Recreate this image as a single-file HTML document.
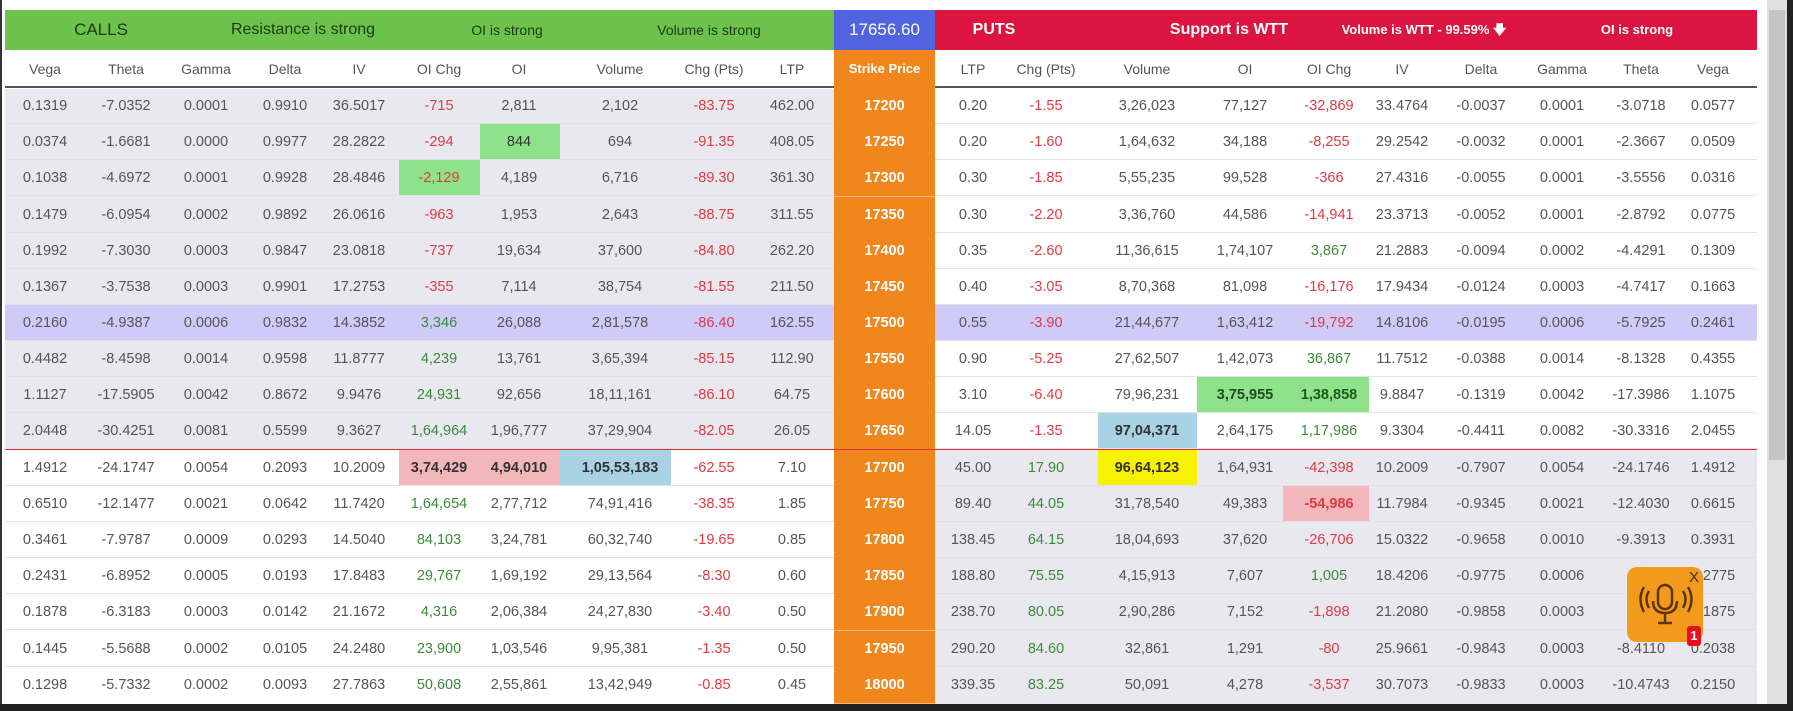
<!DOCTYPE html>
<html><head><meta charset="utf-8"><style>
*{margin:0;padding:0;box-sizing:border-box}
body{width:1793px;height:711px;background:#fff;position:relative;overflow:hidden;font-family:"Liberation Sans",sans-serif;color:#555}
.hb{position:absolute;top:10px;height:40px;font-size:16px;line-height:40px}
.ht{position:absolute;top:0;transform:translateX(-50%);white-space:nowrap}
.row{position:absolute;left:5px;width:1752px;height:36px;border-bottom:1px solid #e2e2e2}
.row span{position:absolute;top:0;width:90px;margin-left:-50px;text-align:center;line-height:36px;font-size:14.5px}
.hdr span{font-size:14px;color:#555}
.r{color:#e03a44}.g{color:#3c8a3c}
.hl{position:absolute;height:36px}
.stk{position:absolute;left:834px;width:101px;background:#f0861c;color:#fff;font-weight:bold;text-align:center;font-size:14.5px;line-height:36px;border-bottom:1px solid #f7b77a}
</style></head><body>
<div style="position:absolute;left:0;top:0;width:2px;height:711px;background:#333"></div>
<div style="position:absolute;left:0;top:704px;width:1793px;height:7px;background:#222"></div>
<div style="position:absolute;left:1787px;top:0;width:6px;height:711px;background:#222"></div>
<div style="position:absolute;left:1767px;top:0;width:20px;height:704px;background:#e0e0e0"></div>
<div style="position:absolute;left:1769px;top:10px;width:16px;height:450px;background:#c4c4c4"></div>

<div class="hb" style="left:5px;width:829px;background:#6cc24a;color:#1d3a10">
<span class="ht" style="left:96px;font-size:17px">CALLS</span>
<span class="ht" style="left:298px">Resistance is strong</span>
<span class="ht" style="left:502px;font-size:14px">OI is strong</span>
<span class="ht" style="left:704px;font-size:14px">Volume is strong</span></div>
<div class="hb" style="left:834px;width:101px;background:#5064e0;color:#fff;text-align:center;font-size:17px">17656.60</div>
<div class="hb" style="left:935px;width:822px;background:#dc1440;color:#fff;font-weight:bold">
<span class="ht" style="left:59px;font-size:16px">PUTS</span>
<span class="ht" style="left:294px;font-size:16px">Support is WTT</span>
<span class="ht" style="left:489px;font-size:13px">Volume is WTT - 99.59% &#129095;</span>
<span class="ht" style="left:702px;font-size:13px">OI is strong</span></div>

<div class="row hdr" style="top:50px;height:38px;border-bottom:2px solid #555">
<span style="left:45px;line-height:38px">Vega</span><span style="left:126px;line-height:38px">Theta</span><span style="left:206px;line-height:38px">Gamma</span><span style="left:285px;line-height:38px">Delta</span><span style="left:359px;line-height:38px">IV</span><span style="left:439px;line-height:38px">OI Chg</span><span style="left:519px;line-height:38px">OI</span><span style="left:620px;line-height:38px">Volume</span><span style="left:714px;line-height:38px">Chg (Pts)</span><span style="left:792px;line-height:38px">LTP</span>
<span style="left:973px;line-height:38px">LTP</span><span style="left:1046px;line-height:38px">Chg (Pts)</span><span style="left:1147px;line-height:38px">Volume</span><span style="left:1245px;line-height:38px">OI</span><span style="left:1329px;line-height:38px">OI Chg</span><span style="left:1402px;line-height:38px">IV</span><span style="left:1481px;line-height:38px">Delta</span><span style="left:1562px;line-height:38px">Gamma</span><span style="left:1641px;line-height:38px">Theta</span><span style="left:1713px;line-height:38px">Vega</span></div>
<div style="position:absolute;left:834px;top:50px;width:101px;height:38px;background:#f0861c;color:#fff;font-weight:bold;font-size:13px;text-align:center;line-height:38px">Strike Price</div>

<div style="position:absolute;left:5px;top:89px;width:829px;height:361px;background:#e8e8ee"></div>
<div style="position:absolute;left:935px;top:450px;width:822px;height:254px;background:#e8e8ee"></div>
<div style="position:absolute;left:5px;top:305px;width:1752px;height:36px;background:#cfcaf7"></div>
<div class="hl" style="left:480px;top:124px;width:80px;background:#8ee28a"></div>
<div class="hl" style="left:399px;top:160px;width:81px;background:#8ee28a"></div>
<div class="hl" style="left:1197px;top:377px;width:172px;background:#8ee28a"></div>
<div class="hl" style="left:1098px;top:413px;width:99px;background:#a9d3e5"></div>
<div class="hl" style="left:399px;top:450px;width:161px;background:#f3b6bb"></div>
<div class="hl" style="left:560px;top:450px;width:111px;background:#a9d3e5"></div>
<div class="hl" style="left:1098px;top:450px;width:99px;background:#f7f200"></div>
<div class="hl" style="left:1283px;top:486px;width:86px;background:#f3b6bb"></div>
<div style="position:absolute;left:5px;top:449px;width:1752px;height:1px;background:#d8303c;z-index:2"></div>

<div class="row" style="top:88px"><span style="left:45px">0.1319</span><span style="left:126px">-7.0352</span><span style="left:206px">0.0001</span><span style="left:285px">0.9910</span><span style="left:359px">36.5017</span><span class="r" style="left:439px">-715</span><span style="left:519px">2,811</span><span style="left:620px">2,102</span><span class="r" style="left:714px">-83.75</span><span style="left:792px">462.00</span><span style="left:973px">0.20</span><span class="r" style="left:1046px">-1.55</span><span style="left:1147px">3,26,023</span><span style="left:1245px">77,127</span><span class="r" style="left:1329px">-32,869</span><span style="left:1402px">33.4764</span><span style="left:1481px">-0.0037</span><span style="left:1562px">0.0001</span><span style="left:1641px">-3.0718</span><span style="left:1713px">0.0577</span></div>
<div class="row" style="top:124px"><span style="left:45px">0.0374</span><span style="left:126px">-1.6681</span><span style="left:206px">0.0000</span><span style="left:285px">0.9977</span><span style="left:359px">28.2822</span><span class="r" style="left:439px">-294</span><span style="left:519px;color:#333">844</span><span style="left:620px">694</span><span class="r" style="left:714px">-91.35</span><span style="left:792px">408.05</span><span style="left:973px">0.20</span><span class="r" style="left:1046px">-1.60</span><span style="left:1147px">1,64,632</span><span style="left:1245px">34,188</span><span class="r" style="left:1329px">-8,255</span><span style="left:1402px">29.2542</span><span style="left:1481px">-0.0032</span><span style="left:1562px">0.0001</span><span style="left:1641px">-2.3667</span><span style="left:1713px">0.0509</span></div>
<div class="row" style="top:160px"><span style="left:45px">0.1038</span><span style="left:126px">-4.6972</span><span style="left:206px">0.0001</span><span style="left:285px">0.9928</span><span style="left:359px">28.4846</span><span class="r" style="left:439px">-2,129</span><span style="left:519px">4,189</span><span style="left:620px">6,716</span><span class="r" style="left:714px">-89.30</span><span style="left:792px">361.30</span><span style="left:973px">0.30</span><span class="r" style="left:1046px">-1.85</span><span style="left:1147px">5,55,235</span><span style="left:1245px">99,528</span><span class="r" style="left:1329px">-366</span><span style="left:1402px">27.4316</span><span style="left:1481px">-0.0055</span><span style="left:1562px">0.0001</span><span style="left:1641px">-3.5556</span><span style="left:1713px">0.0316</span></div>
<div class="row" style="top:197px"><span style="left:45px">0.1479</span><span style="left:126px">-6.0954</span><span style="left:206px">0.0002</span><span style="left:285px">0.9892</span><span style="left:359px">26.0616</span><span class="r" style="left:439px">-963</span><span style="left:519px">1,953</span><span style="left:620px">2,643</span><span class="r" style="left:714px">-88.75</span><span style="left:792px">311.55</span><span style="left:973px">0.30</span><span class="r" style="left:1046px">-2.20</span><span style="left:1147px">3,36,760</span><span style="left:1245px">44,586</span><span class="r" style="left:1329px">-14,941</span><span style="left:1402px">23.3713</span><span style="left:1481px">-0.0052</span><span style="left:1562px">0.0001</span><span style="left:1641px">-2.8792</span><span style="left:1713px">0.0775</span></div>
<div class="row" style="top:233px"><span style="left:45px">0.1992</span><span style="left:126px">-7.3030</span><span style="left:206px">0.0003</span><span style="left:285px">0.9847</span><span style="left:359px">23.0818</span><span class="r" style="left:439px">-737</span><span style="left:519px">19,634</span><span style="left:620px">37,600</span><span class="r" style="left:714px">-84.80</span><span style="left:792px">262.20</span><span style="left:973px">0.35</span><span class="r" style="left:1046px">-2.60</span><span style="left:1147px">11,36,615</span><span style="left:1245px">1,74,107</span><span class="g" style="left:1329px">3,867</span><span style="left:1402px">21.2883</span><span style="left:1481px">-0.0094</span><span style="left:1562px">0.0002</span><span style="left:1641px">-4.4291</span><span style="left:1713px">0.1309</span></div>
<div class="row" style="top:269px"><span style="left:45px">0.1367</span><span style="left:126px">-3.7538</span><span style="left:206px">0.0003</span><span style="left:285px">0.9901</span><span style="left:359px">17.2753</span><span class="r" style="left:439px">-355</span><span style="left:519px">7,114</span><span style="left:620px">38,754</span><span class="r" style="left:714px">-81.55</span><span style="left:792px">211.50</span><span style="left:973px">0.40</span><span class="r" style="left:1046px">-3.05</span><span style="left:1147px">8,70,368</span><span style="left:1245px">81,098</span><span class="r" style="left:1329px">-16,176</span><span style="left:1402px">17.9434</span><span style="left:1481px">-0.0124</span><span style="left:1562px">0.0003</span><span style="left:1641px">-4.7417</span><span style="left:1713px">0.1663</span></div>
<div class="row" style="top:305px"><span style="left:45px">0.2160</span><span style="left:126px">-4.9387</span><span style="left:206px">0.0006</span><span style="left:285px">0.9832</span><span style="left:359px">14.3852</span><span class="g" style="left:439px">3,346</span><span style="left:519px">26,088</span><span style="left:620px">2,81,578</span><span class="r" style="left:714px">-86.40</span><span style="left:792px">162.55</span><span style="left:973px">0.55</span><span class="r" style="left:1046px">-3.90</span><span style="left:1147px">21,44,677</span><span style="left:1245px">1,63,412</span><span class="r" style="left:1329px">-19,792</span><span style="left:1402px">14.8106</span><span style="left:1481px">-0.0195</span><span style="left:1562px">0.0006</span><span style="left:1641px">-5.7925</span><span style="left:1713px">0.2461</span></div>
<div class="row" style="top:341px"><span style="left:45px">0.4482</span><span style="left:126px">-8.4598</span><span style="left:206px">0.0014</span><span style="left:285px">0.9598</span><span style="left:359px">11.8777</span><span class="g" style="left:439px">4,239</span><span style="left:519px">13,761</span><span style="left:620px">3,65,394</span><span class="r" style="left:714px">-85.15</span><span style="left:792px">112.90</span><span style="left:973px">0.90</span><span class="r" style="left:1046px">-5.25</span><span style="left:1147px">27,62,507</span><span style="left:1245px">1,42,073</span><span class="g" style="left:1329px">36,867</span><span style="left:1402px">11.7512</span><span style="left:1481px">-0.0388</span><span style="left:1562px">0.0014</span><span style="left:1641px">-8.1328</span><span style="left:1713px">0.4355</span></div>
<div class="row" style="top:377px"><span style="left:45px">1.1127</span><span style="left:126px">-17.5905</span><span style="left:206px">0.0042</span><span style="left:285px">0.8672</span><span style="left:359px">9.9476</span><span class="g" style="left:439px">24,931</span><span style="left:519px">92,656</span><span style="left:620px">18,11,161</span><span class="r" style="left:714px">-86.10</span><span style="left:792px">64.75</span><span style="left:973px">3.10</span><span class="r" style="left:1046px">-6.40</span><span style="left:1147px">79,96,231</span><span style="left:1245px;color:#1e4a1e;font-weight:bold">3,75,955</span><span style="left:1329px;color:#1e5a1e;font-weight:bold">1,38,858</span><span style="left:1402px">9.8847</span><span style="left:1481px">-0.1319</span><span style="left:1562px">0.0042</span><span style="left:1641px">-17.3986</span><span style="left:1713px">1.1075</span></div>
<div class="row" style="top:413px"><span style="left:45px">2.0448</span><span style="left:126px">-30.4251</span><span style="left:206px">0.0081</span><span style="left:285px">0.5599</span><span style="left:359px">9.3627</span><span class="g" style="left:439px">1,64,964</span><span style="left:519px">1,96,777</span><span style="left:620px">37,29,904</span><span class="r" style="left:714px">-82.05</span><span style="left:792px">26.05</span><span style="left:973px">14.05</span><span class="r" style="left:1046px">-1.35</span><span style="left:1147px;color:#333;font-weight:bold">97,04,371</span><span style="left:1245px">2,64,175</span><span class="g" style="left:1329px">1,17,986</span><span style="left:1402px">9.3304</span><span style="left:1481px">-0.4411</span><span style="left:1562px">0.0082</span><span style="left:1641px">-30.3316</span><span style="left:1713px">2.0455</span></div>
<div class="row" style="top:450px"><span style="left:45px">1.4912</span><span style="left:126px">-24.1747</span><span style="left:206px">0.0054</span><span style="left:285px">0.2093</span><span style="left:359px">10.2009</span><span style="left:439px;color:#333;font-weight:bold">3,74,429</span><span style="left:519px;color:#333;font-weight:bold">4,94,010</span><span style="left:620px;color:#333;font-weight:bold">1,05,53,183</span><span class="r" style="left:714px">-62.55</span><span style="left:792px">7.10</span><span style="left:973px">45.00</span><span class="g" style="left:1046px">17.90</span><span style="left:1147px;color:#333;font-weight:bold">96,64,123</span><span style="left:1245px">1,64,931</span><span class="r" style="left:1329px">-42,398</span><span style="left:1402px">10.2009</span><span style="left:1481px">-0.7907</span><span style="left:1562px">0.0054</span><span style="left:1641px">-24.1746</span><span style="left:1713px">1.4912</span></div>
<div class="row" style="top:486px"><span style="left:45px">0.6510</span><span style="left:126px">-12.1477</span><span style="left:206px">0.0021</span><span style="left:285px">0.0642</span><span style="left:359px">11.7420</span><span class="g" style="left:439px">1,64,654</span><span style="left:519px">2,77,712</span><span style="left:620px">74,91,416</span><span class="r" style="left:714px">-38.35</span><span style="left:792px">1.85</span><span style="left:973px">89.40</span><span class="g" style="left:1046px">44.05</span><span style="left:1147px">31,78,540</span><span style="left:1245px">49,383</span><span class="r" style="left:1329px;font-weight:bold">-54,986</span><span style="left:1402px">11.7984</span><span style="left:1481px">-0.9345</span><span style="left:1562px">0.0021</span><span style="left:1641px">-12.4030</span><span style="left:1713px">0.6615</span></div>
<div class="row" style="top:522px"><span style="left:45px">0.3461</span><span style="left:126px">-7.9787</span><span style="left:206px">0.0009</span><span style="left:285px">0.0293</span><span style="left:359px">14.5040</span><span class="g" style="left:439px">84,103</span><span style="left:519px">3,24,781</span><span style="left:620px">60,32,740</span><span class="r" style="left:714px">-19.65</span><span style="left:792px">0.85</span><span style="left:973px">138.45</span><span class="g" style="left:1046px">64.15</span><span style="left:1147px">18,04,693</span><span style="left:1245px">37,620</span><span class="r" style="left:1329px">-26,706</span><span style="left:1402px">15.0322</span><span style="left:1481px">-0.9658</span><span style="left:1562px">0.0010</span><span style="left:1641px">-9.3913</span><span style="left:1713px">0.3931</span></div>
<div class="row" style="top:558px"><span style="left:45px">0.2431</span><span style="left:126px">-6.8952</span><span style="left:206px">0.0005</span><span style="left:285px">0.0193</span><span style="left:359px">17.8483</span><span class="g" style="left:439px">29,767</span><span style="left:519px">1,69,192</span><span style="left:620px">29,13,564</span><span class="r" style="left:714px">-8.30</span><span style="left:792px">0.60</span><span style="left:973px">188.80</span><span class="g" style="left:1046px">75.55</span><span style="left:1147px">4,15,913</span><span style="left:1245px">7,607</span><span class="g" style="left:1329px">1,005</span><span style="left:1402px">18.4206</span><span style="left:1481px">-0.9775</span><span style="left:1562px">0.0006</span><span style="left:1641px">-8.6</span><span style="left:1713px">0.2775</span></div>
<div class="row" style="top:594px"><span style="left:45px">0.1878</span><span style="left:126px">-6.3183</span><span style="left:206px">0.0003</span><span style="left:285px">0.0142</span><span style="left:359px">21.1672</span><span class="g" style="left:439px">4,316</span><span style="left:519px">2,06,384</span><span style="left:620px">24,27,830</span><span class="r" style="left:714px">-3.40</span><span style="left:792px">0.50</span><span style="left:973px">238.70</span><span class="g" style="left:1046px">80.05</span><span style="left:1147px">2,90,286</span><span style="left:1245px">7,152</span><span class="r" style="left:1329px">-1,898</span><span style="left:1402px">21.2080</span><span style="left:1481px">-0.9858</span><span style="left:1562px">0.0003</span><span style="left:1641px">-6.6</span><span style="left:1713px">0.1875</span></div>
<div class="row" style="top:631px"><span style="left:45px">0.1445</span><span style="left:126px">-5.5688</span><span style="left:206px">0.0002</span><span style="left:285px">0.0105</span><span style="left:359px">24.2480</span><span class="g" style="left:439px">23,900</span><span style="left:519px">1,03,546</span><span style="left:620px">9,95,381</span><span class="r" style="left:714px">-1.35</span><span style="left:792px">0.50</span><span style="left:973px">290.20</span><span class="g" style="left:1046px">84.60</span><span style="left:1147px">32,861</span><span style="left:1245px">1,291</span><span class="r" style="left:1329px">-80</span><span style="left:1402px">25.9661</span><span style="left:1481px">-0.9843</span><span style="left:1562px">0.0003</span><span style="left:1641px">-8.4110</span><span style="left:1713px">0.2038</span></div>
<div class="row" style="top:667px;border-bottom:none"><span style="left:45px">0.1298</span><span style="left:126px">-5.7332</span><span style="left:206px">0.0002</span><span style="left:285px">0.0093</span><span style="left:359px">27.7863</span><span class="g" style="left:439px">50,608</span><span style="left:519px">2,55,861</span><span style="left:620px">13,42,949</span><span class="r" style="left:714px">-0.85</span><span style="left:792px">0.45</span><span style="left:973px">339.35</span><span class="g" style="left:1046px">83.25</span><span style="left:1147px">50,091</span><span style="left:1245px">4,278</span><span class="r" style="left:1329px">-3,537</span><span style="left:1402px">30.7073</span><span style="left:1481px">-0.9833</span><span style="left:1562px">0.0003</span><span style="left:1641px">-10.4743</span><span style="left:1713px">0.2150</span></div>

<div class="stk" style="top:88px">17200</div><div class="stk" style="top:124px">17250</div><div class="stk" style="top:160px">17300</div><div class="stk" style="top:197px">17350</div><div class="stk" style="top:233px">17400</div><div class="stk" style="top:269px">17450</div><div class="stk" style="top:305px">17500</div><div class="stk" style="top:341px">17550</div><div class="stk" style="top:377px">17600</div><div class="stk" style="top:413px">17650</div><div class="stk" style="top:450px">17700</div><div class="stk" style="top:486px">17750</div><div class="stk" style="top:522px">17800</div><div class="stk" style="top:558px">17850</div><div class="stk" style="top:594px">17900</div><div class="stk" style="top:631px">17950</div><div class="stk" style="top:667px;height:37px">18000</div>

<div style="position:absolute;left:1627px;top:567px;width:76px;height:75px;background:#f39a1c;border-radius:10px;z-index:5">
<svg width="76" height="75" viewBox="0 0 76 75"><g fill="none" stroke="#5a3500" stroke-width="2.5"><rect x="31" y="18" width="14" height="24" rx="7"/><path d="M26 34q0 12 12 12q12 0 12-12M38 46v9M31 56h14M22 24q-5 8 0 17M56 24q5 8 0 17M17 20q-7 12 0 25M61 20q7 12 0 25"/></g></svg>
<div style="position:absolute;right:4px;top:2px;font-size:15px;color:#333">X</div>
<div style="position:absolute;right:2px;bottom:-4px;width:14px;height:20px;background:#e8101c;color:#fff;font-weight:bold;font-size:13px;text-align:center;line-height:20px;border-radius:3px">1</div>
</div>
</body></html>
